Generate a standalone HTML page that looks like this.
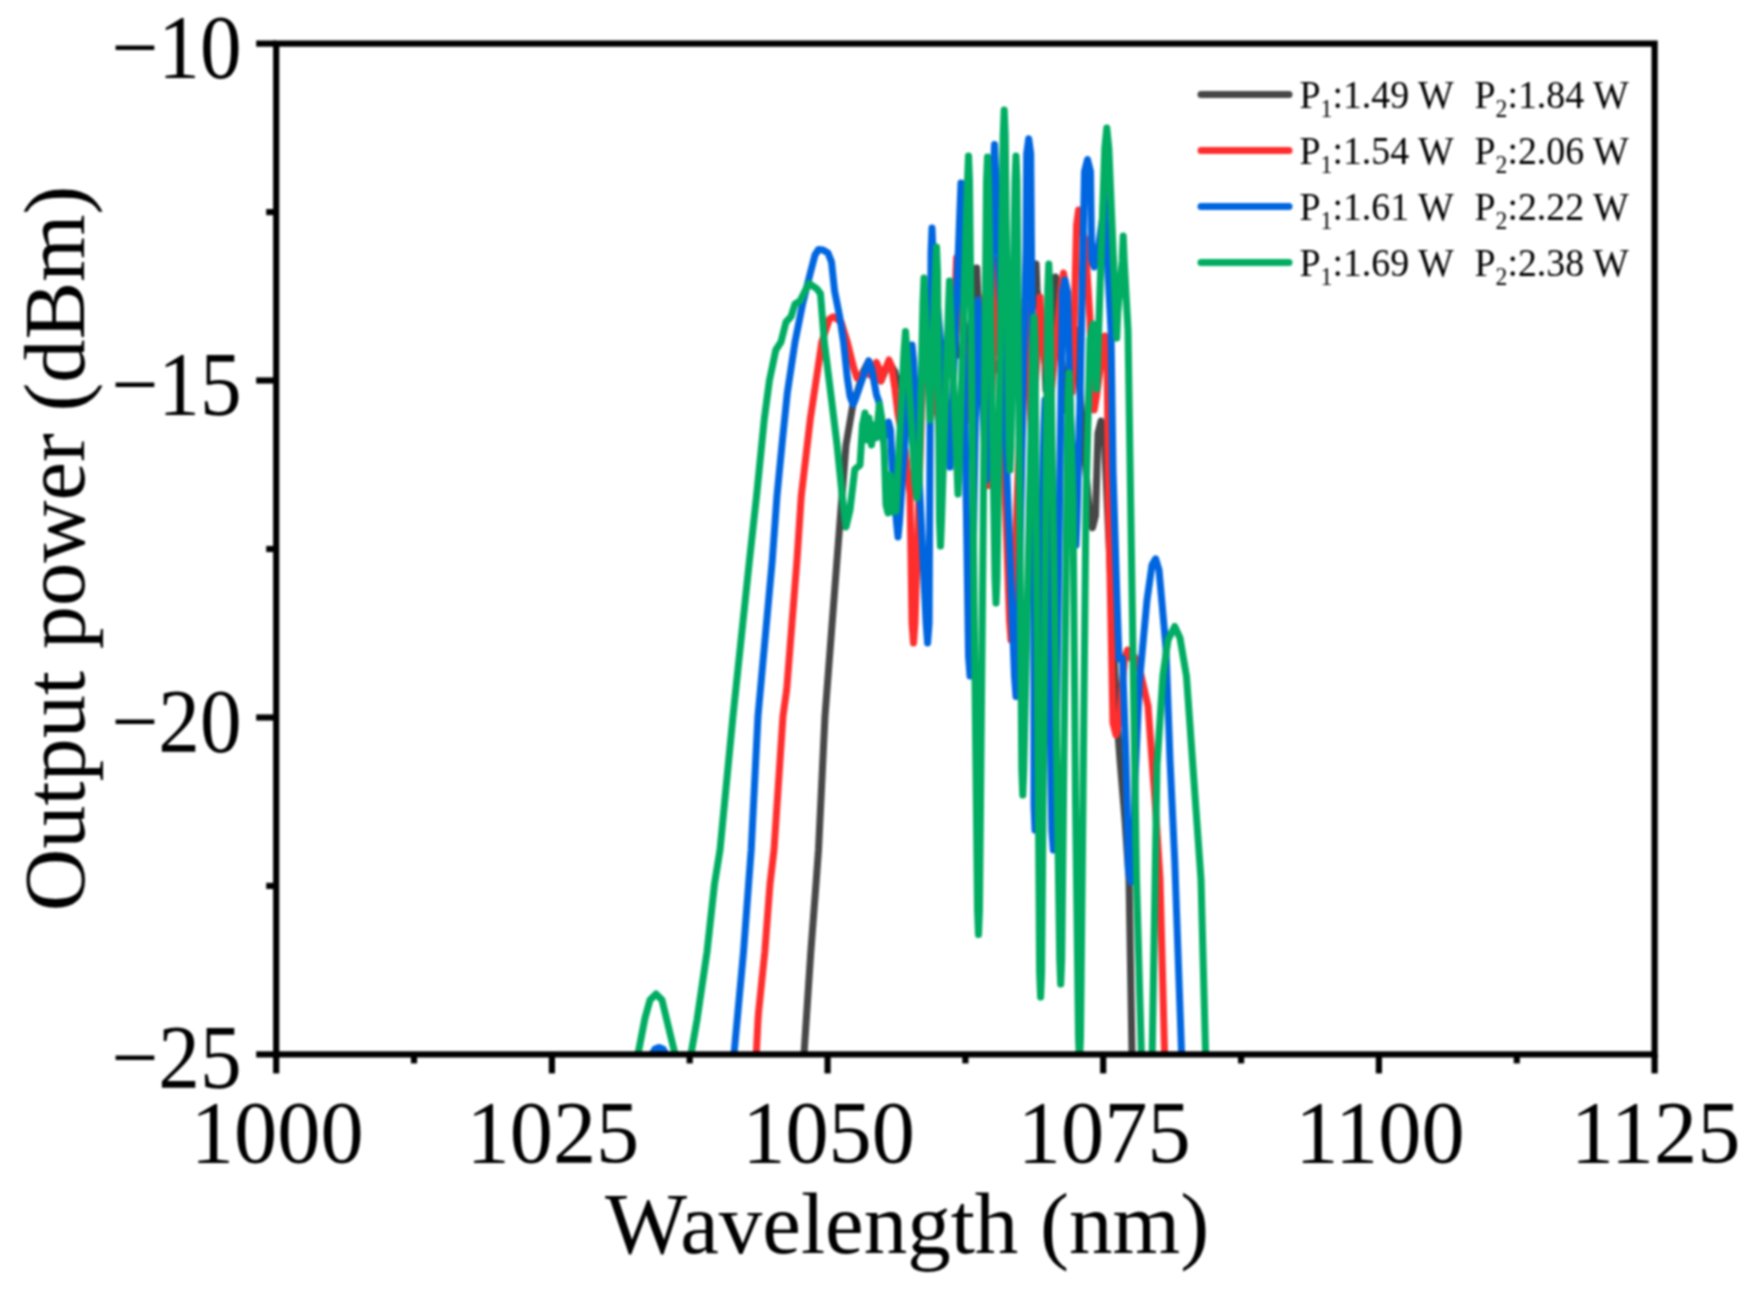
<!DOCTYPE html><html><head><meta charset="utf-8"><style>html,body{margin:0;padding:0;background:#fff;overflow:hidden}svg{display:block;filter:blur(0.8px)}text{font-family:"Liberation Serif","Times New Roman",serif;fill:#000}</style></head><body>
<svg width="1748" height="1292" viewBox="0 0 1748 1292">
<rect width="1748" height="1292" fill="#fff"/>
<defs><clipPath id="pc"><rect x="276.2" y="43.6" width="1378.3999999999999" height="1010.8000000000001"/></clipPath></defs>
<g clip-path="url(#pc)" fill="none" stroke-linejoin="round" stroke-linecap="round">
<polyline stroke="#474747" stroke-width="7.0" points="800.0,1075.0 804.0,1054.0 810.8,952.0 816.0,884.0 818.5,850.0 825.0,716.0 837.0,560.0 842.0,496.0 846.0,445.0 853.0,404.0 858.0,390.0 863.0,372.0 868.7,361.0 873.0,372.0 876.5,364.0 881.0,381.0 889.0,362.0 895.0,372.0 896.0,386.0 898.0,378.0 900.0,386.0 909.0,395.0 910.0,420.0 911.0,395.0 924.0,375.0 925.0,350.0 926.0,375.0 939.0,375.0 940.0,400.0 941.0,375.0 954.0,355.0 955.0,330.0 956.0,355.0 964.0,355.0 965.0,380.0 966.0,355.0 975.7,293.0 976.7,268.0 977.7,293.0 989.0,375.0 990.0,400.0 991.0,375.0 1004.0,355.0 1005.0,330.0 1006.0,355.0 1019.0,375.0 1020.0,400.0 1021.0,375.0 1035.0,289.0 1036.0,264.0 1037.0,289.0 1045.0,365.0 1046.0,390.0 1047.0,365.0 1054.5,302.0 1055.5,277.0 1056.5,302.0 1064.0,385.0 1065.0,410.0 1066.0,385.0 1075.0,355.0 1076.0,330.0 1077.0,355.0 1089.5,515.6 1092.5,527.6 1095.5,515.6 1098.0,433.0 1101.0,421.0 1104.0,433.0 1104.0,430.0 1108.0,520.0 1113.0,630.0 1117.0,720.0 1120.0,760.0 1125.0,820.0 1129.0,879.0 1132.0,1054.0 1134.0,1075.0"/>
<polyline stroke="#ff2e2e" stroke-width="7.0" points="750.0,1075.0 756.3,1054.0 758.0,1020.0 758.5,1013.0 764.8,952.0 770.0,884.0 774.0,850.0 783.0,716.0 786.7,689.5 797.0,560.0 801.3,495.6 810.3,419.0 818.0,367.8 821.8,342.0 829.5,319.0 833.3,316.7 841.0,321.8 847.3,342.0 853.7,367.8 857.0,378.0 865.0,372.0 870.0,375.0 874.0,368.5 876.5,362.5 879.0,368.5 879.0,375.0 881.0,381.0 883.0,375.0 886.5,366.0 889.0,360.0 891.5,366.0 895.0,389.0 898.0,414.0 905.0,450.0 910.0,494.0 912.0,623.0 913.5,643.0 915.0,623.0 924.0,325.0 925.0,300.0 926.0,325.0 939.0,425.0 940.0,450.0 941.0,425.0 955.6,282.7 956.6,257.7 957.6,282.7 969.0,395.0 970.0,420.0 971.0,395.0 981.0,325.0 982.0,300.0 983.0,325.0 987.2,460.5 988.2,485.5 989.2,460.5 996.0,285.0 997.0,260.0 998.0,285.0 1009.5,620.0 1011.0,640.0 1012.5,620.0 1024.0,325.0 1025.0,300.0 1026.0,325.0 1031.0,425.0 1032.0,450.0 1033.0,425.0 1039.0,322.0 1040.0,297.0 1041.0,322.0 1049.0,395.0 1050.0,420.0 1051.0,395.0 1061.5,285.0 1063.5,273.0 1065.5,285.0 1071.0,367.0 1072.0,392.0 1073.0,367.0 1076.6,225.0 1078.6,210.0 1080.6,225.0 1085.0,240.0 1090.0,320.0 1092.2,398.0 1094.2,410.0 1096.2,398.0 1103.0,348.0 1105.0,336.0 1107.0,348.0 1108.5,500.0 1113.0,723.0 1116.0,735.0 1119.0,723.0 1124.6,658.0 1127.6,650.0 1130.6,658.0 1133.0,655.0 1138.0,662.0 1148.0,706.0 1155.0,800.0 1160.0,879.0 1164.6,1054.0 1167.0,1075.0"/>
<polyline stroke="#0066e0" stroke-width="7.0" points="648.0,1075.0 652.0,1054.0 655.0,1049.0 659.0,1047.5 663.0,1049.0 666.0,1054.0 670.0,1075.0"/>
<polyline stroke="#0066e0" stroke-width="7.0" points="730.0,1075.0 734.0,1054.0 743.5,952.0 748.6,884.0 751.2,850.0 758.0,716.0 772.3,560.0 777.0,495.6 782.0,444.5 787.3,393.0 795.0,342.0 802.6,304.0 810.3,273.0 815.0,255.0 818.5,249.5 823.0,250.0 828.0,253.0 831.5,262.0 834.6,291.0 839.7,316.7 843.5,342.0 847.3,378.0 850.0,396.0 850.7,398.3 853.2,404.3 855.7,398.3 865.7,369.0 868.7,361.0 871.7,369.0 876.5,395.0 879.0,402.0 881.0,432.0 883.0,440.0 885.0,432.0 886.5,430.0 888.5,422.0 890.5,430.0 892.0,461.6 896.5,522.0 898.0,537.0 899.5,522.0 910.5,360.0 912.0,345.0 913.5,360.0 926.1,623.0 927.6,643.0 929.1,623.0 931.0,253.0 932.0,228.0 933.0,253.0 949.0,442.0 950.0,467.0 951.0,442.0 960.0,208.0 961.0,183.0 962.0,208.0 968.5,656.0 970.0,676.0 971.5,656.0 977.0,325.0 978.0,300.0 979.0,325.0 985.0,455.0 986.0,480.0 987.0,455.0 993.5,169.6 994.5,144.6 995.5,169.6 1014.5,676.5 1016.0,696.5 1017.5,676.5 1022.0,450.0 1026.0,250.0 1026.7,153.7 1028.7,138.7 1030.7,153.7 1031.5,250.0 1034.0,500.0 1034.0,805.0 1035.0,830.0 1036.0,805.0 1044.0,425.0 1045.0,400.0 1046.0,425.0 1051.8,830.0 1053.3,850.0 1054.8,830.0 1062.5,292.0 1065.0,280.0 1067.5,292.0 1070.0,400.0 1075.0,520.0 1076.0,545.0 1077.0,520.0 1080.0,400.0 1084.5,171.5 1087.5,159.5 1090.5,171.5 1091.7,259.0 1094.2,267.0 1096.7,259.0 1103.0,215.0 1104.0,190.0 1105.0,215.0 1111.0,330.0 1113.0,470.0 1117.0,600.0 1119.0,659.0 1122.5,658.0 1126.0,760.0 1128.5,872.0 1131.0,882.0 1133.5,872.0 1135.0,780.0 1139.4,682.0 1147.0,600.0 1152.0,565.0 1155.6,558.8 1159.0,570.0 1165.9,647.0 1170.0,760.0 1174.7,860.0 1181.6,1054.0 1184.0,1075.0"/>
<polyline stroke="#00ad62" stroke-width="7.0" points="633.0,1075.0 638.0,1054.0 645.0,1018.0 650.0,1000.0 656.0,994.0 662.0,1000.0 668.0,1025.0 675.0,1054.0 680.0,1075.0"/>
<polyline stroke="#00ad62" stroke-width="7.0" points="687.0,1075.0 691.0,1054.0 697.0,1020.0 707.0,952.0 714.5,884.0 720.0,850.0 733.0,716.0 749.5,560.0 756.6,495.6 764.3,419.0 769.4,380.6 775.8,350.0 781.0,342.0 786.0,322.0 791.0,316.7 795.0,304.0 800.0,301.0 805.0,291.0 809.0,283.5 816.7,288.6 820.5,293.7 824.3,342.0 830.7,393.0 837.0,444.5 842.2,495.6 846.0,527.0 850.0,510.0 854.8,469.4 860.0,465.0 862.5,425.0 865.0,413.0 867.0,440.0 869.0,418.0 871.5,445.0 873.5,425.0 876.0,438.0 879.5,404.3 882.0,420.0 884.2,450.0 886.0,505.0 888.0,513.0 890.0,475.0 892.0,512.0 894.0,482.0 896.0,511.0 898.0,470.0 904.0,351.5 905.5,331.5 907.0,351.5 915.0,483.0 917.0,498.0 919.0,483.0 923.0,303.0 924.0,278.0 925.0,303.0 929.0,395.0 930.0,420.0 931.0,395.0 935.5,272.0 936.5,247.0 937.5,272.0 939.5,521.0 940.5,546.0 941.5,521.0 948.5,306.0 949.5,281.0 950.5,306.0 957.0,469.0 958.0,494.0 959.0,469.0 967.5,181.0 968.5,156.0 969.5,181.0 977.5,909.5 978.5,934.5 979.5,909.5 986.5,182.0 987.5,157.0 988.5,182.0 995.0,578.0 996.0,603.0 997.0,578.0 1003.2,135.0 1004.2,110.0 1005.2,135.0 1009.0,445.0 1010.0,470.0 1011.0,445.0 1015.0,181.0 1016.0,156.0 1017.0,181.0 1021.8,770.0 1022.8,795.0 1023.8,770.0 1033.0,342.0 1034.0,317.0 1035.0,342.0 1039.6,972.0 1040.6,997.0 1041.6,972.0 1047.8,289.0 1048.8,264.0 1049.8,289.0 1059.7,959.0 1060.7,984.0 1061.7,959.0 1068.0,398.0 1069.0,373.0 1070.0,398.0 1073.0,500.0 1075.5,800.0 1078.5,1037.0 1079.5,1062.0 1080.5,1037.0 1083.0,800.0 1086.0,500.0 1090.0,339.0 1093.0,324.0 1096.0,339.0 1095.5,364.0 1096.5,389.0 1097.5,364.0 1104.8,148.0 1106.8,128.0 1108.8,148.0 1115.7,313.0 1116.7,338.0 1117.7,313.0 1122.2,261.0 1123.2,236.0 1124.2,261.0 1128.0,330.0 1130.6,500.0 1136.5,879.4 1141.4,1054.0 1146.0,1200.0 1152.2,1054.0 1157.0,764.7 1163.0,675.0 1168.0,640.0 1174.7,626.5 1180.0,638.0 1186.5,676.5 1201.0,879.4 1205.6,1054.0 1208.0,1075.0"/>
</g>
<g stroke="#000" stroke-width="6.2" fill="none" stroke-linecap="square">
<rect x="276.2" y="43.6" width="1378.3999999999999" height="1010.8000000000001"/>
</g>
<g stroke="#000" stroke-width="6.2">
<line x1="276.2" y1="1054.4" x2="276.2" y2="1073.4"/>
<line x1="551.9" y1="1054.4" x2="551.9" y2="1073.4"/>
<line x1="827.6" y1="1054.4" x2="827.6" y2="1073.4"/>
<line x1="1103.2" y1="1054.4" x2="1103.2" y2="1073.4"/>
<line x1="1378.9" y1="1054.4" x2="1378.9" y2="1073.4"/>
<line x1="1654.6" y1="1054.4" x2="1654.6" y2="1073.4"/>
<line x1="414.0" y1="1054.4" x2="414.0" y2="1063.4"/>
<line x1="689.7" y1="1054.4" x2="689.7" y2="1063.4"/>
<line x1="965.4" y1="1054.4" x2="965.4" y2="1063.4"/>
<line x1="1241.1" y1="1054.4" x2="1241.1" y2="1063.4"/>
<line x1="1516.8" y1="1054.4" x2="1516.8" y2="1063.4"/>
<line x1="256.2" y1="43.6" x2="276.2" y2="43.6"/>
<line x1="256.2" y1="380.5" x2="276.2" y2="380.5"/>
<line x1="256.2" y1="717.5" x2="276.2" y2="717.5"/>
<line x1="256.2" y1="1054.4" x2="276.2" y2="1054.4"/>
<line x1="266.2" y1="212.1" x2="276.2" y2="212.1"/>
<line x1="266.2" y1="549.0" x2="276.2" y2="549.0"/>
<line x1="266.2" y1="885.9" x2="276.2" y2="885.9"/>
</g>
<text transform="translate(277.2,1161.5) scale(0.965,1)" font-size="89.5" text-anchor="middle">1000</text>
<text transform="translate(552.9,1161.5) scale(0.965,1)" font-size="89.5" text-anchor="middle">1025</text>
<text transform="translate(828.6,1161.5) scale(0.965,1)" font-size="89.5" text-anchor="middle">1050</text>
<text transform="translate(1104.2,1161.5) scale(0.965,1)" font-size="89.5" text-anchor="middle">1075</text>
<text transform="translate(1379.9,1161.5) scale(0.965,1)" font-size="89.5" text-anchor="middle">1100</text>
<text transform="translate(1655.6,1161.5) scale(0.965,1)" font-size="89.5" text-anchor="middle">1125</text>
<text transform="translate(241.5,77.6) scale(0.92,1)" font-size="90.5" text-anchor="end">−10</text>
<text transform="translate(241.5,414.5) scale(0.92,1)" font-size="90.5" text-anchor="end">−15</text>
<text transform="translate(241.5,751.5) scale(0.92,1)" font-size="90.5" text-anchor="end">−20</text>
<text transform="translate(241.5,1088.4) scale(0.92,1)" font-size="90.5" text-anchor="end">−25</text>
<text x="605" y="1253" font-size="87">Wavelength (nm)</text>
<text transform="translate(84,548.5) rotate(-90)" font-size="86.5" text-anchor="middle">Output power (dBm)</text>
<line x1="1201" y1="94.5" x2="1289" y2="94.5" stroke="#474747" stroke-width="7" stroke-linecap="round"/>
<text transform="translate(1299.5,108.1) scale(0.947,1)" font-size="40">P<tspan font-size="25" dy="9">1</tspan><tspan dy="-9">:1.49 W</tspan></text>
<text transform="translate(1474.5,108.1) scale(0.947,1)" font-size="40">P<tspan font-size="25" dy="9">2</tspan><tspan dy="-9">:1.84 W</tspan></text>
<line x1="1201" y1="150.5" x2="1289" y2="150.5" stroke="#ff2e2e" stroke-width="7" stroke-linecap="round"/>
<text transform="translate(1299.5,164.1) scale(0.947,1)" font-size="40">P<tspan font-size="25" dy="9">1</tspan><tspan dy="-9">:1.54 W</tspan></text>
<text transform="translate(1474.5,164.1) scale(0.947,1)" font-size="40">P<tspan font-size="25" dy="9">2</tspan><tspan dy="-9">:2.06 W</tspan></text>
<line x1="1201" y1="206.5" x2="1289" y2="206.5" stroke="#0066e0" stroke-width="7" stroke-linecap="round"/>
<text transform="translate(1299.5,220.1) scale(0.947,1)" font-size="40">P<tspan font-size="25" dy="9">1</tspan><tspan dy="-9">:1.61 W</tspan></text>
<text transform="translate(1474.5,220.1) scale(0.947,1)" font-size="40">P<tspan font-size="25" dy="9">2</tspan><tspan dy="-9">:2.22 W</tspan></text>
<line x1="1201" y1="262.5" x2="1289" y2="262.5" stroke="#00ad62" stroke-width="7" stroke-linecap="round"/>
<text transform="translate(1299.5,276.1) scale(0.947,1)" font-size="40">P<tspan font-size="25" dy="9">1</tspan><tspan dy="-9">:1.69 W</tspan></text>
<text transform="translate(1474.5,276.1) scale(0.947,1)" font-size="40">P<tspan font-size="25" dy="9">2</tspan><tspan dy="-9">:2.38 W</tspan></text>
</svg></body></html>
